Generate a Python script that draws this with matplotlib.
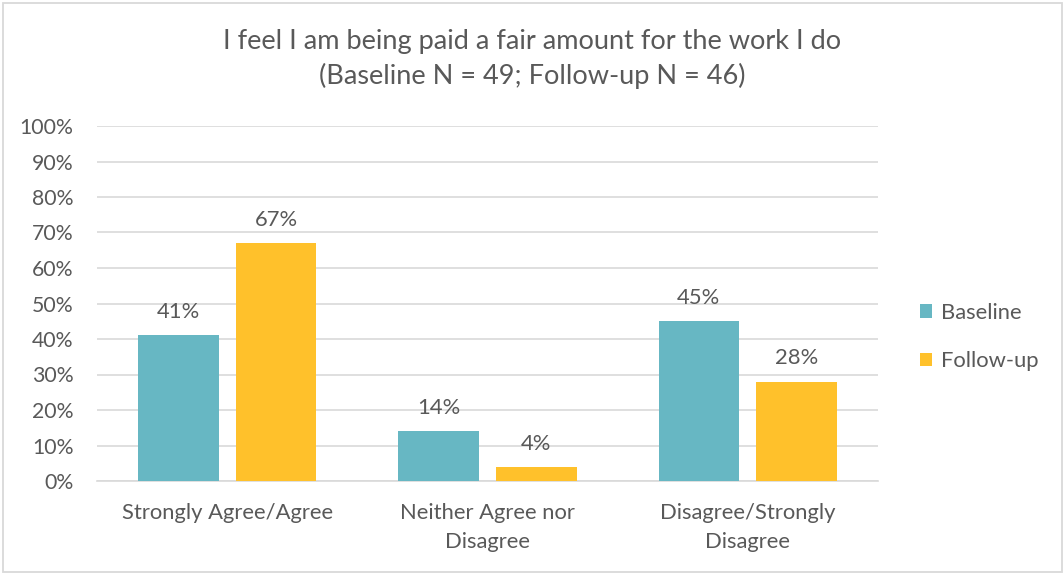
import matplotlib
matplotlib.use("Agg")
import matplotlib.pyplot as plt
import numpy as np
from matplotlib.patches import Rectangle

categories = ["Strongly Agree/Agree", "Neither Agree nor\nDisagree", "Disagree/Strongly\nDisagree"]
baseline = [41, 14, 45]
follow_up = [67, 4, 28]
series_names = ["Baseline", "Follow-up"]
y_ticks = [0, 10, 20, 30, 40, 50, 60, 70, 80, 90, 100]
title = "I feel I am being paid a fair amount for the work I do\n(Baseline N = 49; Follow-up N = 46)"

TEXT = "#595959"
GRID = "#D9D9D9"
TEAL = "#67B7C3"
GOLD = "#FFC12B"

plt.rcParams["font.family"] = ["Lato", "DejaVu Sans"]

W, H = 1063, 573
fig = plt.figure(figsize=(W / 100, H / 100), dpi=100)
ax = fig.add_axes([97 / W, (H - 481) / H, 781 / W, 355 / H])

x = np.arange(len(categories))
bw = 0.31
off = 0.188
b1 = ax.bar(x - off, baseline, bw, color=TEAL, label=series_names[0], zorder=3)
b2 = ax.bar(x + off, follow_up, bw, color=GOLD, label=series_names[1], zorder=3)

for bars, vals in ((b1, baseline), (b2, follow_up)):
    for r, v in zip(bars, vals):
        ax.annotate(f"{v}%", (r.get_x() + r.get_width() / 2, v),
                    xytext=(0, 9.5), textcoords="offset points",
                    ha="center", va="bottom", fontsize=15.8, color=TEXT)

ax.set_xlim(-0.5, 2.5)
ax.set_ylim(0, 100)
ax.set_yticks(y_ticks)
ax.set_yticklabels([f"{t}%" for t in y_ticks])
ax.set_xticks(x)
ax.set_xticklabels(categories, linespacing=1.6)
ax.tick_params(axis="y", length=0, pad=17, labelsize=15.3, labelcolor=TEXT)
ax.tick_params(axis="x", length=0, pad=15.5, labelsize=15.8, labelcolor=TEXT)
ax.grid(axis="y", color=GRID, linewidth=1.2, zorder=0)
for s in ("top", "right", "left"):
    ax.spines[s].set_visible(False)
ax.spines["bottom"].set_color(GRID)
ax.spines["bottom"].set_linewidth(1.2)

fig.text(532 / W, 1 - 59 / H, title, ha="center", va="center",
         fontsize=19.5, color=TEXT, linespacing=1.4)

fig.legend(handles=[b1, b2], labels=series_names, loc="center left",
           bbox_to_anchor=(900 / W, 1 - 337 / H), frameon=False,
           fontsize=15.8, labelcolor=TEXT, handlelength=0.55, handleheight=0.55,
           handletextpad=0.4, labelspacing=1.3)

fig.add_artist(Rectangle((2.5 / W, 1.5 / H), (W - 4) / W, (H - 4) / H,
                         transform=fig.transFigure, fill=False,
                         edgecolor=GRID, linewidth=1.3))

fig.savefig("out.png", dpi=100, facecolor="white")
